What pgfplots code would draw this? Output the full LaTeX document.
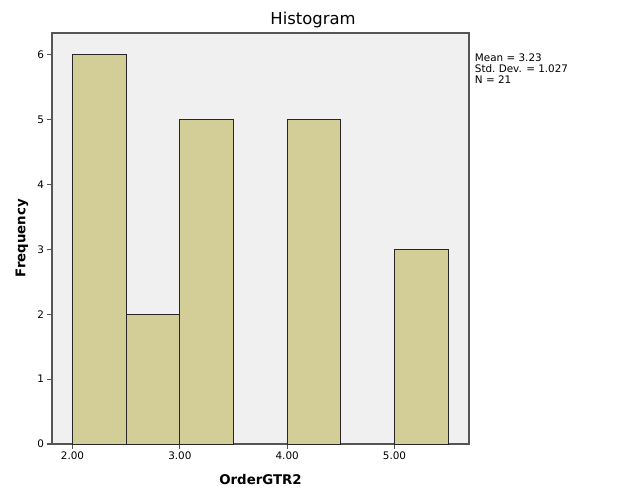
\documentclass[border=0pt]{standalone}
\usepackage{fontspec}
\setmainfont{DejaVu Sans}
\usepackage{pgfplots}
\pgfplotsset{compat=1.18}
\definecolor{plotbg}{HTML}{F0F0F0}
\definecolor{barfill}{HTML}{D3CE97}
\definecolor{axisgray}{HTML}{555555}
\begin{document}
\begin{tikzpicture}
% page = 626x501 px at 0.75pt per px
\path[use as bounding box] (0,0) rectangle (469.5pt,-375.75pt);
\begin{axis}[
    at={(39pt,-333pt)}, anchor=south west,
    scale only axis,
    width=312.75pt, height=308.25pt,
    xmin=1.809, xmax=5.694,
    ymin=0, ymax=6.33,
    xtick={2,3,4,5},
    xticklabels={2.00,3.00,4.00,5.00},
    ytick={0,1,2,3,4,5,6},
    tick pos=left,
    tick align=outside,
    major tick length=3.5pt,
    tick style={axisgray, line width=0.8pt},
    axis line style={axisgray, line width=1.3pt},
    axis background/.style={fill=plotbg},
    ticklabel style={font=\fontsize{7.8}{9}\selectfont, text=black},
    /pgf/number format/assume math mode=true,
    xticklabel style={yshift=1pt},
    yticklabel style={xshift=1pt},
]
\addplot[ybar interval, fill=barfill, draw=black!85, line width=0.6pt]
    coordinates {(2,6) (2.5,2) (3,5) (3.5,5)};
\addplot[ybar interval, fill=barfill, draw=black!85, line width=0.6pt]
    coordinates {(4,5) (4.5,5)};
\addplot[ybar interval, fill=barfill, draw=black!85, line width=0.6pt]
    coordinates {(5,3) (5.5,3)};
\end{axis}
\node[font=\fontsize{12.3}{14}\selectfont] at (234.75pt,-15pt) {Histogram};
\node[font=\bfseries\fontsize{10}{12}\selectfont] at (195.4pt,-360pt) {OrderGTR2};
\node[font=\bfseries\fontsize{10}{12}\selectfont, rotate=90] at (16.5pt,-178.5pt) {Frequency};
\node[font=\fontsize{7.8}{8.25}\selectfont, anchor=north west, align=left, inner sep=0pt]
    at (356pt,-40.5pt) {Mean = 3.23\\Std.\ Dev. = 1.027\\N = 21};
\end{tikzpicture}
\end{document}
